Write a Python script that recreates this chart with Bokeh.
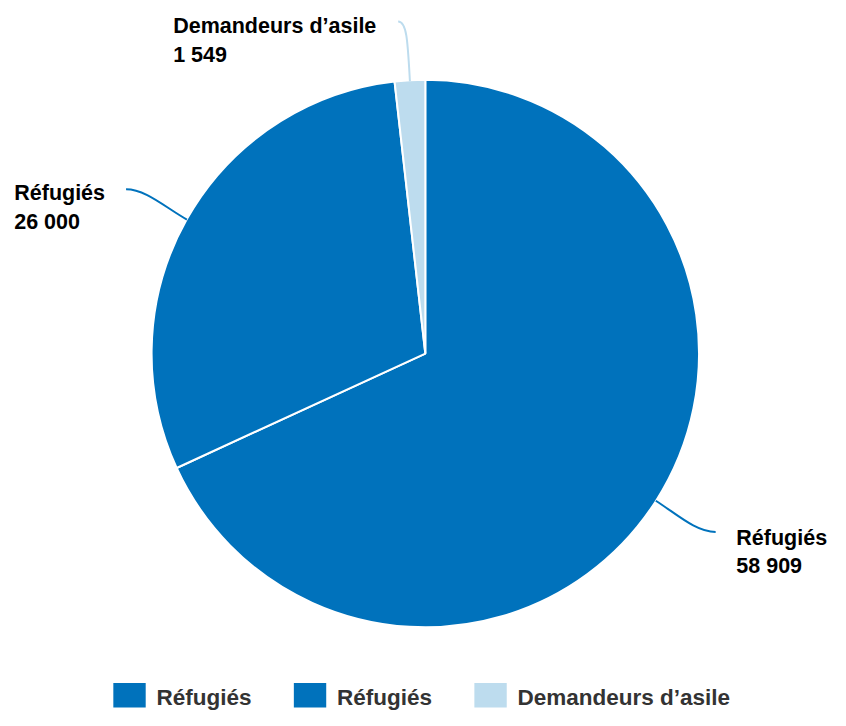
import math
from bokeh.plotting import figure
from bokeh.models import Range1d
from bokeh.core.properties import value
from bokeh.embed import file_html
from bokeh.resources import INLINE

# ---- data ----
categories = ["Réfugiés", "Réfugiés", "Demandeurs d’asile"]
values = [58909, 26000, 1549]
colors = ["#0072BC", "#0072BC", "#BDDCEE"]

# ---- layout (data units follow an 846 x 726 canvas, drawn in 830 x 710 px) ----
W, H = 830, 710
CX, CY, R = 433, 365, 279
FONT = "Liberation Sans"
TEXT_DY = 6.7   # correction for the rendered text baseline

p = figure(width=W, height=H, x_range=Range1d(0, 846), y_range=Range1d(0, 726),
           x_axis_type=None, y_axis_type=None, output_backend="svg",
           toolbar_location=None, min_border=0)
p.grid.visible = False
p.outline_line_color = None
p.background_fill_color = "white"
p.border_fill_color = "white"

total = float(sum(values))
fracs = [v / total for v in values]
starts, ends, mids = [], [], []
a = math.pi / 2
for f in fracs:
    starts.append(a)
    ends.append(a - f * 2 * math.pi)
    mids.append(a - f * math.pi)
    a -= f * 2 * math.pi

p.wedge(x=[CX] * len(values), y=[CY] * len(values), radius=R,
        start_angle=starts, end_angle=ends, direction="clock",
        fill_color=colors, line_color="white", line_width=2)

# leader lines: end offset, radial control length, control offset at the end
leader_end = [(61, -32), (-62, 31), (-12, 61)]
leader_c0 = [25, 25, 40]
leader_c1 = [(-20, 0), (20, 0), (9, 0)]
for i, th in enumerate(mids):
    ax = CX + R * math.cos(th)
    ay = CY + R * math.sin(th)
    ex, ey = ax + leader_end[i][0], ay + leader_end[i][1]
    c0x = ax + leader_c0[i] * math.cos(th)
    c0y = ay + leader_c0[i] * math.sin(th)
    c1x, c1y = ex + leader_c1[i][0], ey + leader_c1[i][1]
    p.bezier(x0=[ax], y0=[ay], x1=[ex], y1=[ey], cx0=[c0x], cy0=[c0y],
             cx1=[c1x], cy1=[c1y], line_color=colors[i], line_width=2)

# data labels (name line / value line)
label_pos = [(750, 170), (14, 522), (176, 693)]
LINE_GAP = 29
for i, (lx, ly) in enumerate(label_pos):
    val_txt = f"{values[i]:,}".replace(",", " ")
    p.text(x=[lx, lx], y=[ly + TEXT_DY, ly - LINE_GAP + TEXT_DY],
           text=[categories[i], val_txt],
           text_font=value(FONT), text_font_style="bold", text_font_size="21.5px",
           text_color="#000000", text_align="left", text_baseline="alphabetic")

# legend
leg_x0, leg_step = 115, 184
sq_w, sq_h = 33, 25
sq_y = 15.5
for i, cat in enumerate(categories):
    x = leg_x0 + i * leg_step
    p.rect(x=[x + sq_w / 2], y=[sq_y], width=sq_w, height=sq_h,
           fill_color=colors[i], line_color=None)
    p.text(x=[x + 44], y=[7 + TEXT_DY], text=[cat],
           text_font=value(FONT), text_font_style="bold", text_font_size="22.5px",
           text_color="#333333", text_align="left", text_baseline="alphabetic")

open("out.html", "w").write(file_html(p, INLINE))
